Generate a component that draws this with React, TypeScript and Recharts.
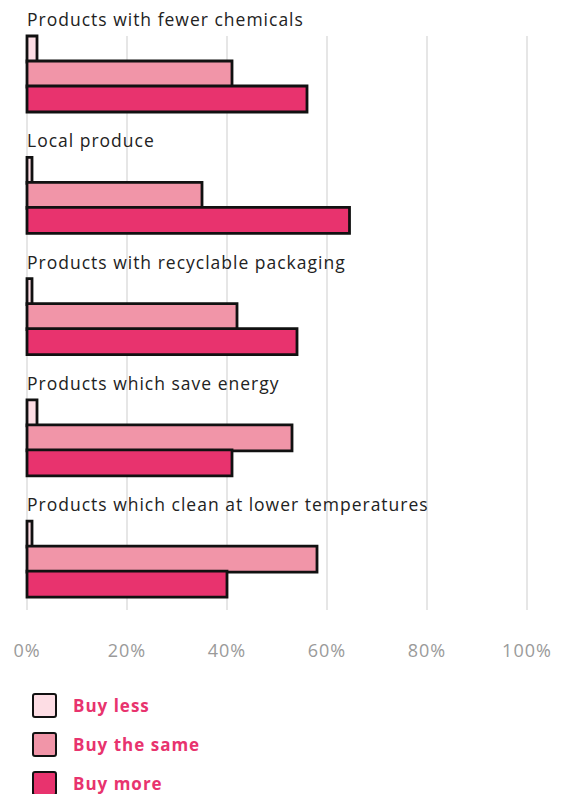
import React from 'react';
import {
    BarChart,
    Bar,
    XAxis,
    YAxis,
    CartesianGrid,
    Legend,
    LabelList,
} from 'recharts';

const categories = [
    'Products with fewer chemicals',
    'Local produce',
    'Products with recyclable packaging',
    'Products which save energy',
    'Products which clean at lower temperatures',
];
const buyLess = [2, 1, 1, 2, 1];
const buyTheSame = [41, 35, 42, 53, 58];
const buyMore = [56, 64.5, 54, 41, 40];
const xTicks = [0, 20, 40, 60, 80, 100];

const seriesNames = ['Buy less', 'Buy the same', 'Buy more'];
const colors = ['#fddde4', '#f195a8', '#e8336e'];

const data = categories.map((name, i) => ({
    name,
    less: buyLess[i],
    same: buyTheSame[i],
    more: buyMore[i],
}));

const FONT = '"Open Sans", sans-serif';

// category title sits above the group's first bar
const CategoryLabel = (props: any) => {
    const { x, y, value } = props;
    return (
        <text x={x} y={y - 10} fill="#222" fontSize={17.5} letterSpacing={1} fontFamily={FONT}>
            {value}
        </text>
    );
};

const LegendBox = () => (
    <div style={{ fontFamily: FONT }}>
        {seriesNames.map((s, i) => (
            <div key={s} style={{ display: 'flex', alignItems: 'center', height: 39 }}>
                <div
                    style={{
                        width: 21,
                        height: 21,
                        background: colors[i],
                        border: '2.5px solid #111',
                        borderRadius: 3,
                    }}
                />
                <span
                    style={{
                        marginLeft: 16,
                        color: '#e8336e',
                        fontWeight: 700,
                        fontSize: 17,
                        letterSpacing: 1,
                    }}
                >
                    {s}
                </span>
            </div>
        ))}
    </div>
);

const App = () => {
    return (
        <BarChart
            width={550}
            height={786}
            data={data}
            layout="vertical"
            margin={{ top: 5, right: 31, bottom: 124.5, left: 19 }}
            barSize={26}
            barGap={-1}
        >
            <CartesianGrid horizontal={false} stroke="#e6e6e6" strokeWidth={2} y={28} height={574} />
            <XAxis
                type="number"
                domain={[0, 100]}
                ticks={xTicks}
                tickFormatter={(v) => `${v}%`}
                axisLine={false}
                tickLine={false}
                tickSize={0}
                tickMargin={25}
                height={50}
                tick={{ fill: '#9a9a9a', fontSize: 18, letterSpacing: 1, fontFamily: FONT }}
                interval={0}
            />
            <YAxis type="category" dataKey="name" hide />
            <Bar dataKey="less" name="Buy less" fill={colors[0]} stroke="#111" strokeWidth={2.8} isAnimationActive={false}>
                <LabelList dataKey="name" content={<CategoryLabel />} />
            </Bar>
            <Bar dataKey="same" name="Buy the same" fill={colors[1]} stroke="#111" strokeWidth={2.8} isAnimationActive={false} />
            <Bar dataKey="more" name="Buy more" fill={colors[2]} stroke="#111" strokeWidth={2.8} isAnimationActive={false} />
            <Legend
                layout="vertical"
                verticalAlign="middle"
                align="center"
                content={<LegendBox />}
                wrapperStyle={{ top: 678, left: 24, width: 250, height: 120 }}
            />
        </BarChart>
    );
};

export default App;
